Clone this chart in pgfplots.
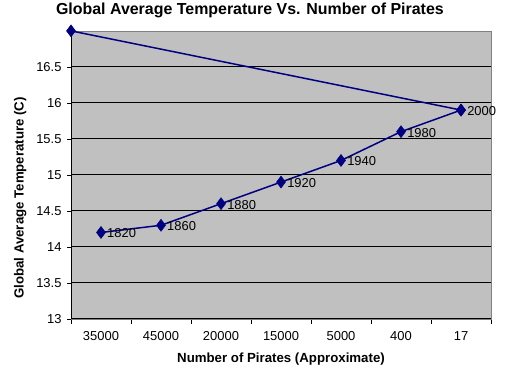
\documentclass[border=0pt]{standalone}
\usepackage{pgfplots}
\pgfplotsset{compat=1.18}
\usepackage{fontspec}
\setmainfont{Liberation Sans}
\definecolor{navy}{RGB}{0,0,128}
\definecolor{plotgray}{RGB}{192,192,192}
\definecolor{bordergray}{RGB}{128,128,128}
\begin{document}
\begin{tikzpicture}[x=1bp,y=1bp]
\path (0,0) rectangle (516,380);
\begin{axis}[
  at={(71bp,63bp)}, anchor=south west,
  scale only axis, width=420bp, height=288bp,
  xmin=-0.5, xmax=6.5, ymin=13, ymax=17,
  clip=false,
  axis background/.style={fill=plotgray},
  axis line style={draw=bordergray},
  xtick pos=bottom, ytick pos=left,
  xtick={0,...,6},
  xticklabels={35000,45000,20000,15000,5000,400,17},
  minor xtick={-0.5,0.5,...,6.5},
  major x tick style={draw=none},
  minor x tick style={draw=black},
  minor tick length=5bp,
  ytick={13,13.5,...,16.5},
  yticklabels={13,13.5,14,14.5,15,15.5,16,16.5},
  major tick length=4bp,
  tick align=outside,
  ytick style={draw=black},
  ymajorgrids, grid style={black, line width=0.8pt},
  tick label style={font=\fontsize{13}{13}\selectfont},
  xticklabel style={yshift=-5bp},
  yticklabel style={xshift=-2bp},
  xlabel={\textbf{Number of Pirates (Approximate)}},
  xlabel style={font=\fontsize{13.3}{14}\selectfont, at={(axis description cs:0.5,-0.139)}, anchor=center},
  ylabel={\textbf{Global Average Temperature (C)}},
  ylabel style={font=\fontsize{13.3}{14}\selectfont, at={(axis description cs:-0.121,0.42)}, anchor=center},
  title={\textbf{Global Average Temperature Vs. Number of Pirates}},
  title style={font=\fontsize{16}{16}\selectfont, at={(axis description cs:0.426,1.049)}, anchor=center},
]
\addplot[navy, line width=1.5pt, mark=diamond*, mark size=6bp, mark options={fill=navy, draw=navy, line width=0.5pt},
  nodes near coords, point meta=explicit symbolic,
  every node near coord/.style={anchor=west, text=black, font=\fontsize{13}{13}\selectfont, xshift=5bp, yshift=-1bp, inner sep=1pt}]
  table[meta=label] {
x y label
0 14.2 1820
1 14.3 1860
2 14.6 1880
3 14.9 1920
4 15.2 1940
5 15.6 1980
6 15.9 2000
};
\addplot[navy, line width=1.5pt, mark=diamond*, mark size=6bp, mark options={fill=navy, draw=navy, line width=0.5pt}]
  coordinates {(6,15.9) (-0.5,17)};
\draw[black, line width=0.8pt] (rel axis cs:0,0) -- (rel axis cs:1,0);
\draw[black, line width=0.8pt] (rel axis cs:0,0) -- (rel axis cs:0,1);
\end{axis}
\end{tikzpicture}
\end{document}
